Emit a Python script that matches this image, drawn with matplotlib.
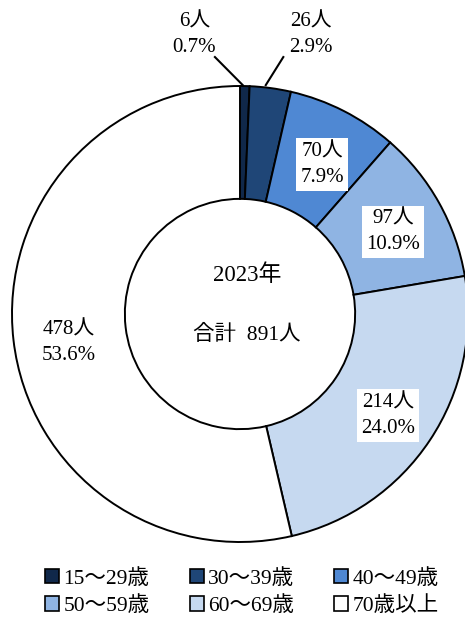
import matplotlib
matplotlib.use("Agg")
from matplotlib import pyplot as plt
from matplotlib.patches import Patch

# age groups and head counts
groups = ["15～29歳", "30～39歳", "40～49歳", "50～59歳", "60～69歳", "70歳以上"]
counts = [6, 26, 70, 97, 214, 478]
shares = ["0.7%", "2.9%", "7.9%", "10.9%", "24.0%", "53.6%"]
colors = ["#10284a", "#1f4677", "#4f88d3", "#8fb4e3", "#c6d9f0", "#ffffff"]
year_text = "2023年"
total_text = "合計  891人"

# where each label sits (pie radius = 1), and which ones get a leader line / white box
label_xy = [(-0.20, 1.225), (0.31, 1.225), (0.36, 0.655), (0.67, 0.36), (0.65, -0.445), (-0.75, -0.125)]
leaders = [((-0.11, 1.127), (0.012, 1.004)), ((0.19, 1.127), (0.113, 1.004)), None, None, None, None]
boxed = [False, False, True, True, True, False]

fam = ["Liberation Serif", "Noto Sans CJK JP"]

fig = plt.figure(figsize=(4.65, 6.19), dpi=100)
ax = fig.add_axes([12 / 465, 77 / 619, 456 / 465, 456 / 619])

wedges, _ = ax.pie(counts, colors=colors, startangle=90, counterclock=False,
                   radius=1, wedgeprops=dict(width=0.495, edgecolor="black", linewidth=1.4))
for w in wedges:
    w.set_clip_on(False)

ax.set_xlim(-1, 1)
ax.set_ylim(-1, 1)
ax.set_aspect("equal")
ax.axis("off")

for i, (x, y) in enumerate(label_xy):
    txt = f"{counts[i]}人\n{shares[i]}"
    bbox = dict(facecolor="white", edgecolor="none", pad=3) if boxed[i] else None
    ax.text(x, y, txt, ha="center", va="center", fontsize=15, family=fam,
            linespacing=1.45, bbox=bbox, clip_on=False)
    if leaders[i]:
        (x0, y0), (x1, y1) = leaders[i]
        ax.plot([x0, x1], [y0, y1], color="black", lw=1.5, clip_on=False)

ax.text(0.03, 0.17, year_text, ha="center", va="center", fontsize=16.5, family=fam)
ax.text(0.03, -0.09, total_text, ha="center", va="center", fontsize=15.5, family=fam)

# legend fills column by column, so reorder to read across rows
handles = [Patch(facecolor=c, edgecolor="black", linewidth=1.2) for c in colors]
order = [0, 3, 1, 4, 2, 5]
fig.legend([handles[i] for i in order], [groups[i] for i in order],
           loc="center", bbox_to_anchor=(0.52, 0.043), ncol=3,
           frameon=False, prop=dict(family=fam, size=15.5), handlelength=0.65,
           handleheight=0.65, handletextpad=0.2, columnspacing=1.85, labelspacing=0.35)

fig.savefig("out.png", dpi=100, facecolor="white")
